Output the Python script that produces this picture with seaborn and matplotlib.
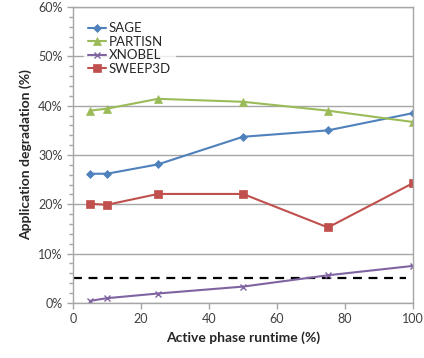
import pandas as pd
import seaborn as sns
import matplotlib.pyplot as plt
from matplotlib.ticker import MultipleLocator, FuncFormatter

runtime = [5, 10, 25, 50, 75, 100]
sage = [26.2, 26.2, 28.1, 33.7, 35.0, 38.5]
partisn = [39.0, 39.4, 41.4, 40.8, 39.0, 36.7]
xnobel = [0.4, 0.95, 1.9, 3.3, 5.6, 7.5]
sweep3d = [20.1, 19.9, 22.1, 22.1, 15.3, 24.3]
threshold = 5.0

names = ["SAGE", "PARTISN", "XNOBEL", "SWEEP3D"]
colors = ["#4F81BD", "#9BBB59", "#8064A2", "#C0504D"]
markers = ["D", "^", "x", "s"]
sizes = [4, 5.5, 5, 6]

df = pd.DataFrame({"runtime": runtime, "SAGE": sage, "PARTISN": partisn,
                   "XNOBEL": xnobel, "SWEEP3D": sweep3d})
long = df.melt(id_vars="runtime", var_name="app", value_name="deg")

sns.set_style("white")
plt.rcParams["font.family"] = ["Lato", "DejaVu Sans"]

fig = plt.figure(figsize=(4.24, 3.58), dpi=100)
ax = fig.add_axes([0.172, 0.154, 0.802, 0.826])

for name, c, m, s in zip(names, colors, markers, sizes):
    sub = long[long["app"] == name]
    sns.lineplot(data=sub, x="runtime", y="deg", ax=ax, color=c, marker=m,
                 markersize=s, markeredgecolor=c, markeredgewidth=1.0 if m == "x" else 0.5,
                 linewidth=1.5, label=name)

ax.plot([0, 98], [threshold, threshold], color="black", linestyle=(0, (4, 3)),
        linewidth=1.6, zorder=1)

ax.set_xlim(0, 100)
ax.set_ylim(0, 60)
ax.xaxis.set_major_locator(MultipleLocator(20))
ax.yaxis.set_major_locator(MultipleLocator(10))
ax.yaxis.set_minor_locator(MultipleLocator(2))
ax.yaxis.set_major_formatter(FuncFormatter(lambda v, p: f"{v:.0f}%"))
ax.grid(axis="y", which="major", color="#A6A6A6", linewidth=1)
ax.set_axisbelow(True)
for sp in ax.spines.values():
    sp.set_color("#A6A6A6")
    sp.set_linewidth(1)
ax.tick_params(axis="both", which="major", direction="out", length=4, width=1,
               color="#A6A6A6", labelsize=9, labelcolor="#404040", left=True, bottom=True)
ax.tick_params(axis="y", which="minor", direction="out", length=3, width=1,
               color="#A6A6A6", left=True)

ax.set_xlabel("Active phase runtime (%)", fontsize=10, fontweight="bold", labelpad=4)
ax.set_ylabel("Application degradation (%)", fontsize=10, fontweight="bold", labelpad=4)

leg = ax.legend(loc="upper left", bbox_to_anchor=(0.012, 0.985), frameon=True,
                fontsize=9.5, handlelength=1.4, handletextpad=0.2, labelspacing=0.12,
                borderpad=0.3, fancybox=False)
leg.get_frame().set_edgecolor("white")
leg.get_frame().set_facecolor("white")

fig.savefig("out.png", dpi=100)
